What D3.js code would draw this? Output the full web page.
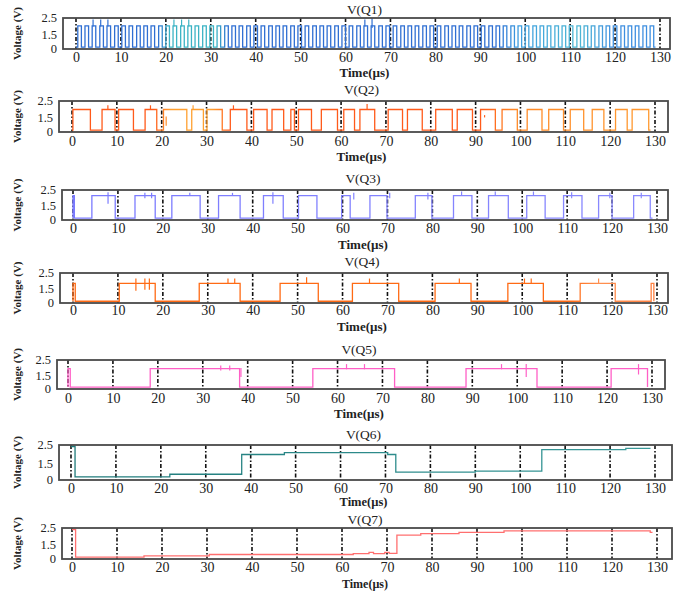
<!DOCTYPE html>
<html><head><meta charset="utf-8">
<script src="https://cdn.jsdelivr.net/npm/d3@7"></script>
<style>body{margin:0;background:#fff}</style></head>
<body><svg id="c" width="685" height="592"></svg>
<script>
// ---------- data ----------
const timeTicks = [0,10,20,30,40,50,60,70,80,90,100,110,120,130];
const voltTicks = [0,1.5,2.5];
const voltTickLabels = ["0","1.5","2.5"];
const titles = ["V(Q1)","V(Q2)","V(Q3)","V(Q4)","V(Q5)","V(Q6)","V(Q7)"];

// high intervals [start,end] in µs
const q1High = [[0.4,1.2],[2.0,2.8],[3.6,4.4],[5.3,6.1],[6.9,7.7],[8.6,9.4],[10.2,11.0],[11.8,12.6],[13.5,14.3],[15.1,15.9],[16.7,17.5],[18.4,19.2],[20.0,20.8],[21.6,22.4],[23.3,24.1],[24.9,25.7],[26.5,27.3],[28.2,29.0],[29.8,30.6],[31.4,32.2],[33.1,33.9],[34.7,35.5],[36.3,37.1],[38.0,38.8],[39.6,40.4],[41.2,42.0],[42.9,43.7],[44.5,45.3],[46.1,46.9],[47.8,48.6],[49.4,50.2],[51.0,51.8],[52.7,53.5],[54.3,55.1],[55.9,56.7],[57.6,58.4],[59.2,60.0],[60.8,61.6],[62.5,63.3],[64.1,64.9],[65.7,66.5],[67.4,68.2],[69.0,69.8],[70.6,71.4],[72.3,73.1],[73.9,74.7],[75.5,76.3],[77.2,78.0],[78.8,79.6],[80.4,81.2],[82.1,82.9],[83.7,84.5],[85.3,86.1],[87.0,87.8],[88.6,89.4],[90.2,91.0],[91.9,92.7],[93.5,94.3],[95.1,95.9],[96.8,97.6],[98.4,99.2],[100.0,100.8],[101.7,102.5],[103.3,104.1],[104.9,105.7],[106.6,107.4],[108.2,109.0],[109.8,110.6],[111.5,112.3],[113.1,113.9],[114.7,115.5],[116.4,117.2],[118.0,118.8],[119.6,120.4],[121.3,122.1],[122.9,123.7],[124.5,125.3],[126.2,127.0],[127.8,128.6]];
const q2High = [[0.2,4.1],[6.7,9.6],[10.4,13.7],[16.3,18.9],[20.4,25.6],[26.7,29.3],[30.1,33.5],[35.3,39.0],[40.5,43.5],[44.6,47.2],[48.8,49.6],[50.5,53.4],[55.6,59.2],[60.6,63.0],[64.2,67.5],[70.5,73.7],[74.8,78.1],[81.1,84.8],[85.9,89.3],[91.1,94.4],[95.9,99.3],[101.5,104.8],[106.3,109.6],[111.1,114.1],[116.0,118.6],[121.2,123.8],[124.9,128.6]];
const q3High = [[0,0.3],[4.2,9.4],[13.8,18.3],[22.0,28.3],[32.4,37.2],[42.4,46.8],[50.2,54.3],[59.8,61.7],[66.1,69.9],[76.2,79.9],[84.7,88.8],[92.5,96.9],[101.0,105.1],[109.2,113.3],[117.0,120.0],[124.8,128.5]];
const q4High = [[0,0.5],[10.3,18.3],[28.1,37.2],[46.1,54.6],[62.2,72.5],[80.6,88.6],[96.8,104.7],[112.9,120.7],[128.7,129.3]];
const q5High = [[0,0.5],[18.3,38.2],[54.5,72.7],[88.6,104.4],[120.9,129.0]];
const levels = { q1:[2.05,0.05], q2:[2.0,0.05], q3:[2.2,0.05], q4:[1.85,0.03], q5:[1.95,0.05] };
// multi-level step traces [t, V]
const q6Steps = [[0.6,2.5],[0.9,0.15],[22.0,0.4],[38.0,2.0],[47.5,2.12],[70.5,2.0],[72.3,0.6],[90.0,0.7],[104.8,2.3],[123.5,2.38],[129.0,2.38]];
const q7Steps = [[0.5,2.5],[0.8,0.05],[16.0,0.18],[30.5,0.32],[62.5,0.42],[66.0,0.55],[67.0,0.42],[69.5,0.55],[70.5,0.45],[72.2,2.1],[77.5,2.2],[86.0,2.3],[96.0,2.4],[128.5,2.3],[129.0,2.3]];
// small glitches [t, Vfrom, Vto]
const q1Glitch = [[3.8,2.5,2.0],[5.5,2.5,2.0],[7.1,2.5,2.0],[21.8,2.5,2.0],[23.5,2.5,2.0],[25.1,2.5,2.0],[64.3,2.5,2.0],[65.9,2.6,1.9]];
const q2Glitch = [[8.0,2.3,2.0],[17.5,2.3,2.0],[21.0,1.5,0.5],[27.0,2.3,2.0],[36.0,2.3,2.0],[65.8,2.4,2.0],[92.0,1.6,1.4]];
const q3Glitch = [[7.8,2.45,1.6],[16.0,2.4,2.0],[17.5,2.4,2.0],[26.0,2.4,2.2],[35.5,2.4,2.2],[44.5,2.45,1.6],[62.5,2.4,1.9],[70.5,2.4,2.0],[79.0,2.4,1.9],[86.5,2.5,2.2],[94.0,2.5,2.2],[102.5,2.5,2.2],[111.0,2.45,2.0],[119.5,2.4,2.0],[126.5,2.4,2.0]];
const q4Glitch = [[14.0,2.2,1.2],[16.0,2.2,1.3],[17.0,2.2,1.3],[34.5,2.2,1.8],[36.0,2.2,1.8],[52.0,2.3,1.8],[66.0,2.2,1.8],[86.0,2.2,1.8],[100.5,2.2,1.8],[102.0,2.2,1.8],[117.0,2.2,1.8]];
const q5Glitch = [[34.0,2.2,1.8],[36.0,2.2,1.8],[38.5,2.0,1.2],[62.0,2.3,1.9],[66.0,2.3,1.9],[96.5,2.3,1.9],[102.0,2.3,1.2],[127.0,2.3,1.5]];

// ---------- style / layout ----------
const colorBands = [
  [[0,"#2f6fd3"],[0.14,"#2f6fd3"],[0.16,"#3bb3c4"],[0.24,"#3bb3c4"],[0.26,"#2f6fd3"],[0.72,"#2f6fd3"],[0.76,"#3f9fe0"],[0.86,"#4fb8d4"],[0.92,"#3f8fe0"],[1,"#3f8fe0"]],
  [[0,"#ff5a1a"],[0.14,"#ff5a1a"],[0.17,"#ffa030"],[0.24,"#ffa030"],[0.27,"#ff5a1a"],[0.7,"#ff5a1a"],[0.76,"#ff8a28"],[1,"#ff9a30"]],
  [[0,"#7a7aff"],[1,"#8a8aff"]],
  [[0,"#ff6a14"],[0.85,"#ff6a14"],[0.9,"#ff9050"],[1,"#ff8040"]],
  [[0,"#ff5fc6"],[1,"#ff5fc6"]],
  [[0,"#1f7a7a"],[1,"#3a9a9a"]],
  [[0,"#ff6f6f"],[1,"#ff6f6f"]]
];
const layout = [
  {top:18, bottom:49, left:63, right:670, x0:76, x1:660, title:9,  ticks:58,  xlab:72,  xfs:13},
  {top:101,bottom:132,left:59, right:668, x0:72, x1:655, title:89, ticks:142, xlab:156, xfs:13},
  {top:190,bottom:220,left:62, right:668, x0:73, x1:657, title:178,ticks:229, xlab:244, xfs:13},
  {top:273,bottom:303,left:60, right:668, x0:73, x1:657, title:261,ticks:311, xlab:326, xfs:13},
  {top:360,bottom:389,left:57, right:665, x0:68, x1:652, title:349,ticks:399, xlab:413, xfs:13},
  {top:445,bottom:480,left:59, right:672, x0:71, x1:655, title:434,ticks:489, xlab:502, xfs:12.5},
  {top:528,bottom:559,left:62, right:672, x0:72, x1:657, title:519,ticks:568, xlab:584, xfs:12}
];

function fromHigh(intervals, hi, lo, end, endLevel){
  const pts=[[0,lo]];
  intervals.forEach(([a,b])=>{pts.push([a,hi]);pts.push([b,lo]);});
  pts.push([end,endLevel===undefined?lo:endLevel]);
  return pts;
}
const series = [
  fromHigh(q1High, levels.q1[0], levels.q1[1], 129),
  fromHigh(q2High, levels.q2[0], levels.q2[1], 129),
  fromHigh(q3High, levels.q3[0], levels.q3[1], 129),
  fromHigh(q4High, levels.q4[0], levels.q4[1], 129.3, levels.q4[0]),
  fromHigh(q5High, levels.q5[0], levels.q5[1], 129, levels.q5[0]),
  [[0,2.5]].concat(q6Steps),
  [[0,2.5]].concat(q7Steps)
];
const glitches = [q1Glitch,q2Glitch,q3Glitch,q4Glitch,q5Glitch,[],[]];

const svg = d3.select("#c");
const defs = svg.append("defs");
const serif = "'Liberation Serif','DejaVu Serif',serif";

layout.forEach((L,i)=>{
  const x = d3.scaleLinear().domain([0,130]).range([L.x0,L.x1]);
  const y = d3.scaleLinear().domain([0,1.5,2.5]).range([L.bottom-1.5,(L.top+L.bottom)/2,L.top+1.5]);
  const yl = d3.scaleLinear().domain([0,1.5,2.5]).range([L.bottom-1,(L.top+L.bottom)/2,L.top-1]);
  const g = svg.append("g");

  const grad = defs.append("linearGradient").attr("id","gr"+i).attr("gradientUnits","userSpaceOnUse")
    .attr("x1",L.x0).attr("x2",L.x1).attr("y1",0).attr("y2",0);
  grad.selectAll("stop").data(colorBands[i]).join("stop")
    .attr("offset",d=>d[0]).attr("stop-color",d=>d[1]);

  g.selectAll("line.grid").data(timeTicks).join("line")
    .attr("x1",d=>x(d)).attr("x2",d=>x(d)).attr("y1",L.top).attr("y2",L.bottom)
    .attr("stroke","#111").attr("stroke-width",1.6).attr("stroke-dasharray","4,2,1.5,2");

  const line = d3.line().x(d=>x(d[0])).y(d=>y(d[1])).curve(d3.curveStepAfter);
  g.append("path").datum(series[i]).attr("d",line)
    .attr("fill","none").attr("stroke","url(#gr"+i+")").attr("stroke-width",1.3);
  g.selectAll("line.gl").data(glitches[i]).join("line")
    .attr("x1",d=>x(d[0])).attr("x2",d=>x(d[0])).attr("y1",d=>y(d[1])).attr("y2",d=>y(d[2]))
    .attr("stroke","url(#gr"+i+")").attr("stroke-width",1.2);

  g.append("rect").attr("x",L.left).attr("y",L.top).attr("width",L.right-L.left).attr("height",L.bottom-L.top)
    .attr("fill","none").attr("stroke","#4a4a4a").attr("stroke-width",1.8);

  const xa = g.append("g").attr("transform",`translate(0,${L.ticks-5.5})`)
    .call(d3.axisBottom(x).tickValues(timeTicks).tickSize(0).tickPadding(0));
  xa.select(".domain").remove();
  xa.selectAll("text").attr("font-family",serif).attr("font-size",14).attr("fill","#222").attr("dy","0.71em");

  const ya = g.append("g").attr("transform",`translate(${L.left-6},0)`)
    .call(d3.axisLeft(yl).tickValues(voltTicks).tickFormat((d,k)=>voltTickLabels[k]).tickSize(0).tickPadding(0));
  ya.select(".domain").remove();
  ya.selectAll("text").attr("font-family",serif).attr("font-size",12.5).attr("fill","#222").attr("dy","0.36em");

  g.append("text").attr("x",(L.left+L.right)/2-2).attr("y",L.title).attr("dy","0.35em")
    .attr("text-anchor","middle").attr("font-family",serif).attr("font-size",13.5).attr("fill","#222").text(titles[i]);
  g.append("text").attr("x",(L.left+L.right)/2-2).attr("y",L.xlab).attr("dy","0.35em")
    .attr("text-anchor","middle").attr("font-family",serif).attr("font-size",L.xfs).attr("font-weight","bold")
    .attr("fill","#222").text("Time(µs)");
  g.append("text").attr("transform",`translate(17,${(L.top+L.bottom)/2}) rotate(-90)`).attr("dy","0.35em")
    .attr("text-anchor","middle").attr("font-family",serif).attr("font-size",11).attr("font-weight","bold")
    .attr("fill","#222").text("Voltage (V)");
});
</script></body></html>
